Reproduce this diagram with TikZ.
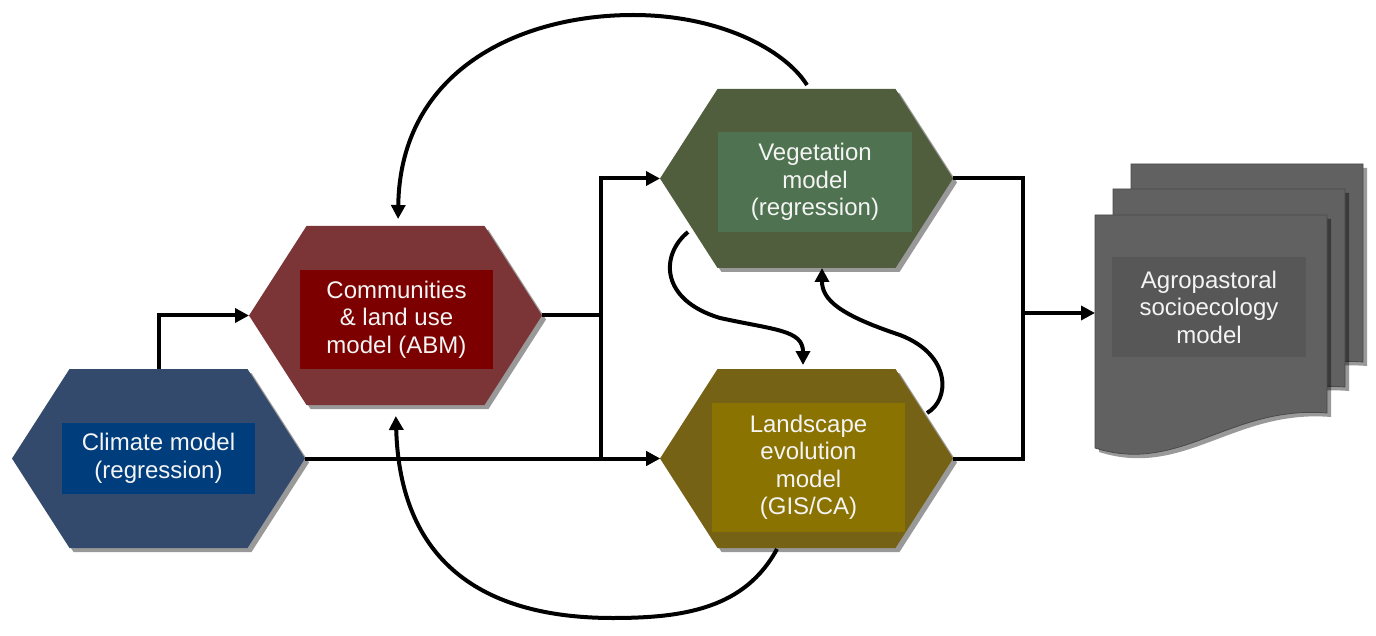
\documentclass[tikz,border=0pt]{standalone}
\usepackage{fontspec}
\setmainfont{Liberation Sans}
\usetikzlibrary{arrows.meta,shadows,calc}
\definecolor{climhex}{HTML}{344A6C}
\definecolor{climbox}{HTML}{003D7C}
\definecolor{commhex}{HTML}{7B3536}
\definecolor{commbox}{HTML}{7C0000}
\definecolor{veghex}{HTML}{505E3E}
\definecolor{vegbox}{HTML}{4F7350}
\definecolor{landhex}{HTML}{766215}
\definecolor{landbox}{HTML}{8A7300}
\definecolor{sheetcol}{HTML}{616161}
\definecolor{sheetline}{HTML}{4A4A4A}
\definecolor{docbox}{HTML}{575757}
\definecolor{txtcol}{HTML}{F4F4F4}
\begin{document}
\begin{tikzpicture}[x=1pt,y=-1pt,
  conn/.style={line width=4pt, draw=black},
  arr/.style={conn, -{Triangle[length=14pt,width=14pt]}},
  txtbox/.style={inner sep=0pt, text=txtcol, align=center,
    font=\fontsize{24pt}{27.5pt}\selectfont},
  shad/.style={drop shadow={shadow xshift=4pt, shadow yshift=-4pt, opacity=0.4, fill=black}},
  pics/hexa/.style={code={
    \fill[#1, shad] (-146.5,0) -- (-89,-89.5) -- (89,-89.5) -- (146.5,0)
      -- (89,89.5) -- (-89,89.5) -- cycle;
    \coordinate (-w) at (-146.5,0); \coordinate (-e) at (146.5,0);
    \coordinate (-n) at (0,-89.5); \coordinate (-s) at (0,89.5);}},
  pics/docpage/.style={code={
    \filldraw[fill=sheetcol, draw=sheetline, line width=0.8pt, shad]
      (0,0) -- (232,0) -- (232,198) .. controls (135,190) and (85,260) .. (0,233) -- cycle;
    \coordinate (-w) at (0,98);}}]
\useasboundingbox (0,0) rectangle (1376,636);

% hexagons
\pic (climH) at (158.5,458.5) {hexa=climhex};
\pic (commH) at (395.5,315.5) {hexa=commhex};
\pic (vegH)  at (806.5,178.5) {hexa=veghex};
\pic (landH) at (806.5,458.5) {hexa=landhex};

% document stack
\pic (docB) at (1131,164) {docpage};
\pic (docM) at (1113,189) {docpage};
\pic (docF) at (1095,215) {docpage};

% text boxes
\node[txtbox, fill=climbox, minimum width=193pt, minimum height=71pt] (clim) at (158.5,458.5) {Climate model\\(regression)};
\node[txtbox, fill=commbox, minimum width=193pt, minimum height=99pt] (comm) at (396.5,319.5) {Communities\\\& land use\\model (ABM)};
\node[txtbox, fill=vegbox, minimum width=194pt, minimum height=100pt] (veg) at (815,182) {Vegetation\\model\\(regression)};
\node[txtbox, fill=landbox, minimum width=193pt, minimum height=129pt] (land) at (808.5,467.5) {Landscape\\evolution\\model\\(GIS/CA)};
\node[txtbox, fill=docbox, minimum width=194pt, minimum height=100pt] (doc) at (1209,307) {Agropastoral\\socioecology\\model};

% straight connectors
\coordinate (jL) at (601,315.5);
\coordinate (jR) at (1023,313);
\draw[arr] (climH-n) |- (commH-w);
\draw[arr] (climH-e) -- (landH-w);
\draw[conn] (commH-e) -- (jL);
\draw[arr] (jL) |- (vegH-w);
\draw[arr] (jL) |- (landH-w);
\draw[conn] (vegH-e) -| (jR) |- (landH-e);
\draw[arr] (jR) -- (docF-w);

% curved connectors
\draw[arr, shorten >=7pt] ($(vegH-n)+(0.5,-4)$) .. controls (785,50) and (720,15) .. (633,15)
  .. controls (520,15) and (400,70) .. ($(commH-n)+(2.5,0)$);
\draw[arr, shorten >=11pt] ($(landH-s)+(-29.5,1)$) .. controls (745,608) and (685,618) .. (613,618)
  .. controls (480,618) and (400,560) .. (commH-s);
\draw[arr, shorten >=4pt] ($(vegH-s)+(-118.5,-36)$) .. controls (660,255) and (660,300) .. (720,318)
  .. controls (775,330) and (803,330) .. ($(landH-n)+(-3.5,0)$);
\draw[arr] ($(landH-e)+(-26,-45.5)$) .. controls (950,400) and (952,355) .. (900,335)
  .. controls (840,315) and (822,300) .. ($(vegH-s)+(15.5,0)$);
\end{tikzpicture}
\end{document}
